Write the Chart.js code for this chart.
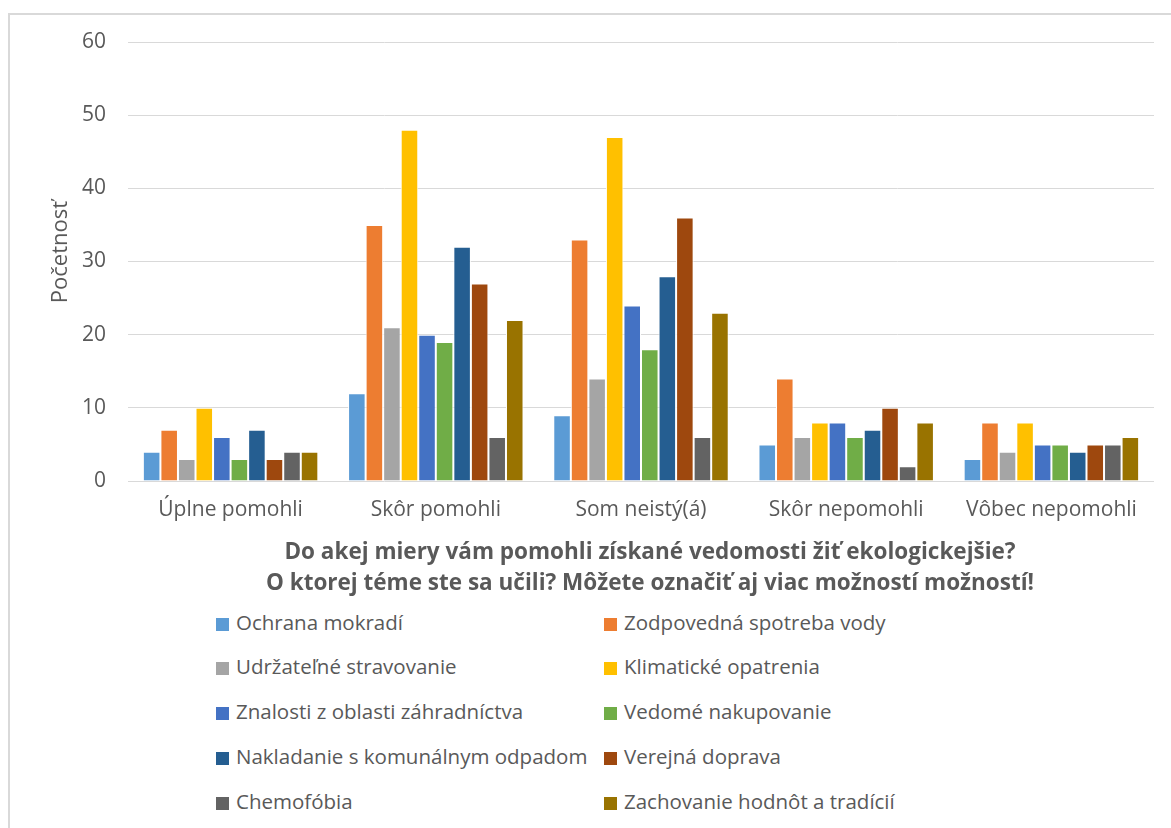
<!DOCTYPE html>
<html>
<head>
<meta charset="utf-8">
<script src="https://cdn.jsdelivr.net/npm/chart.js@4"></script>
<style>
  body { margin: 0; background: #fff; font-family: "Open Sans", sans-serif; }
  #frame { position: absolute; left: 8px; top: 13px; width: 1200px; height: 900px; border: 2px solid #d9d9d9; box-sizing: border-box; }
  #wrap { position: absolute; left: 0; top: 0; width: 1171px; height: 597px; }
  #ytitle { position: absolute; left: -42px; top: 237px; width: 200px; height: 30px; line-height: 30px; text-align: center; color: #595959; font-size: 22px; transform: rotate(-90deg); }
  #xtitle { position: absolute; left: 150px; width: 1000px; top: 535px; text-align: center; color: #595959; font-weight: bold; font-size: 22.5px; line-height: 31px; }
  #legend { position: absolute; left: 0; top: 600px; width: 1171px; }
  .item { position: absolute; color: #595959; font-size: 20.5px; line-height: 20px; white-space: nowrap; }
  .item span.box { display: inline-block; width: 13px; height: 13px; margin-right: 7px; vertical-align: -1px; }
</style>
</head>
<body>
<div id="frame"></div>
<div id="wrap"><canvas id="chart"></canvas></div>
<div id="ytitle">Početnosť</div>
<div id="xtitle">Do akej miery vám pomohli získané vedomosti žiť ekologickejšie?<br>O ktorej téme ste sa učili? Môžete označiť aj viac možností možností!</div>
<div id="legend"></div>
<script>
  "use strict";

  const categories = ['Úplne pomohli', 'Skôr pomohli', 'Som neistý(á)', 'Skôr nepomohli', 'Vôbec nepomohli']
  const seriesNames = ['Ochrana mokradí', 'Zodpovedná spotreba vody', 'Udržateľné stravovanie',
    'Klimatické opatrenia', 'Znalosti z oblasti záhradníctva', 'Vedomé nakupovanie',
    'Nakladanie s komunálnym odpadom', 'Verejná doprava', 'Chemofóbia', 'Zachovanie hodnôt a tradícií']
  const seriesColors = ['#5B9BD5', '#ED7D31', '#A5A5A5', '#FFC000', '#4472C4',
    '#70AD47', '#255E91', '#9E480E', '#636363', '#997300']

  // one array per series, values in the order of categories
  const ochranaMokradi = [4, 12, 9, 5, 3]
  const spotrebaVody = [7, 35, 33, 14, 8]
  const stravovanie = [3, 21, 14, 6, 4]
  const klimatickeOpatrenia = [10, 48, 47, 8, 8]
  const zahradnictvo = [6, 20, 24, 8, 5]
  const nakupovanie = [3, 19, 18, 6, 5]
  const odpad = [7, 32, 28, 7, 4]
  const doprava = [3, 27, 36, 10, 5]
  const chemofobia = [4, 6, 6, 2, 5]
  const tradicie = [4, 22, 23, 8, 6]
  const seriesValues = [ochranaMokradi, spotrebaVody, stravovanie, klimatickeOpatrenia, zahradnictvo,
    nakupovanie, odpad, doprava, chemofobia, tradicie]

  const yTicks = [0, 10, 20, 30, 40, 50, 60]
  const textColor = '#595959'
  const fontName = 'Open Sans'

  const datasets = seriesNames.map(function (name, i) {
    return {
      label: name,
      data: seriesValues[i],
      backgroundColor: seriesColors[i],
      borderColor: '#ffffff',
      borderWidth: 1,
      categoryPercentage: 0.855,
      barPercentage: 1
    }
  })

  new Chart(document.getElementById('chart'), {
    type: 'bar',
    data: { labels: categories, datasets: datasets },
    options: {
      responsive: true,
      maintainAspectRatio: false,
      animation: false,
      layout: { padding: { top: 42, right: 17, left: 0, bottom: 0 } },
      plugins: { legend: { display: false }, tooltip: { enabled: false } },
      scales: {
        x: {
          grid: { display: false, drawTicks: false },
          border: { display: false },
          ticks: { color: textColor, font: { family: fontName, size: 21 }, padding: 16 },
          afterFit: function (scale) { scale.height = 116 }
        },
        y: {
          min: 0,
          max: 60,
          afterBuildTicks: function (scale) { scale.ticks = yTicks.map(v => ({ value: v })) },
          grid: { color: '#d9d9d9', lineWidth: 1, drawTicks: false },
          border: { display: false },
          ticks: { color: textColor, font: { family: fontName, size: 21 }, padding: 22 },
          afterFit: function (scale) { scale.width = 128 }
        }
      }
    }
  })

  // legend in two columns, same order as Excel draws it
  const legend = document.getElementById('legend')
  const colLeft = [216, 604]
  const rowMid = [622, 666, 711, 756, 801]
  seriesNames.forEach(function (name, i) {
    const el = document.createElement('div')
    el.className = 'item'
    el.style.left = colLeft[i % 2] + 'px'
    el.style.top = (rowMid[Math.floor(i / 2)] - 600 - 10) + 'px'
    el.innerHTML = '<span class="box" style="background:' + seriesColors[i] + '"></span>' + name
    legend.appendChild(el)
  })
</script>
</body>
</html>
